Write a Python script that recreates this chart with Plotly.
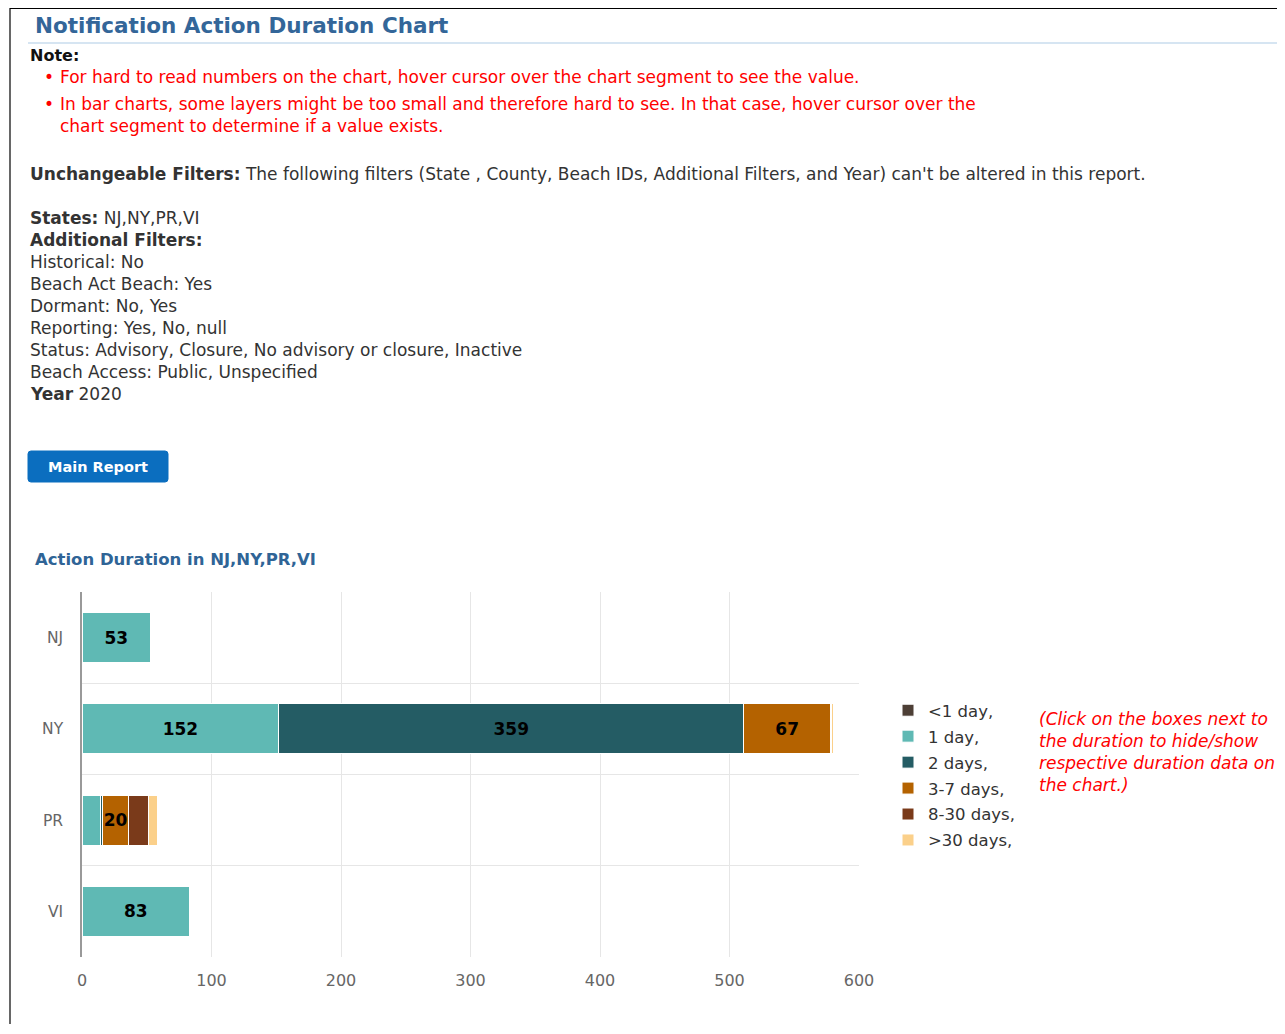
import plotly.graph_objects as go

# page is rendered with an 8px body margin: figure sized to fit the window exactly
PAGE_W, PAGE_H = 1285, 1034
OFF = 8
W, H = PAGE_W - 2 * OFF, PAGE_H - 2 * OFF - 2

states = ["NJ", "NY", "PR", "VI"]
durations = ["<1 day,", "1 day,", "2 days,", "3-7 days,", "8-30 days,", ">30 days,"]
less_1_day = [0, 0, 0, 0]
one_day = [53, 152, 14, 83]
two_days = [0, 359, 2, 1]
three_7_days = [0, 67, 20, 0]
eight_30_days = [0, 1, 15, 0]
over_30_days = [0, 1, 7, 0]
series = [less_1_day, one_day, two_days, three_7_days, eight_30_days, over_30_days]
colors = ["#4d3f36", "#5fb9b4", "#245c64", "#b46200", "#7a3a1a", "#fbd08a"]
x_ticks = [0, 100, 200, 300, 400, 500, 600]

FONT = "DejaVu Sans"


def px(x):
    return (x - OFF) / W


def py(y):
    return 1 - (y - OFF) / H


fig = go.Figure()
for name, vals, col in zip(durations, series, colors):
    fig.add_trace(go.Bar(
        y=states, x=vals, orientation="h", name=name,
        marker=dict(color=col, line=dict(color="white", width=1)),
        text=[str(v) if v >= 20 else "" for v in vals],
        textposition="inside", insidetextanchor="middle", textangle=0,
        constraintext="none",
        textfont=dict(family=FONT, size=17, color="black", weight="bold"),
        legendgroup=name,
    ))

annotations = []


def txt(x, y, s, size=17, color="#333333", bold=False, italic=False, anchor="left"):
    annotations.append(dict(
        x=px(x), y=py(y), xref="paper", yref="paper", text=s, showarrow=False,
        xanchor=anchor, yanchor="middle",
        font=dict(family=FONT, size=size, color=color, weight="bold" if bold else "normal",
                  style="italic" if italic else "normal"),
    ))


red = "#ff0000"
txt(33, 26, "Notification Action Duration Chart", size=21.5, color="#336699", bold=True)
txt(28, 55, "Note:", size=16, color="#111111", bold=True)
txt(42, 77, "•", size=17, color=red)
txt(58, 77, "For hard to read numbers on the chart, hover cursor over the chart segment to see the value.", size=17, color=red)
txt(42, 104, "•", size=17, color=red)
txt(58, 104, "In bar charts, some layers might be too small and therefore hard to see. In that case, hover cursor over the", size=17, color=red)
txt(58, 126, "chart segment to determine if a value exists.", size=17, color=red)
txt(28, 174, "<b>Unchangeable Filters:</b> The following filters (State , County, Beach IDs, Additional Filters, and Year) can't be altered in this report.", size=17)
lines = [
    (218, "<b>States:</b> NJ,NY,PR,VI"),
    (240, "<b>Additional Filters:</b>"),
    (262, "Historical: No"),
    (284, "Beach Act Beach: Yes"),
    (306, "Dormant: No, Yes"),
    (328, "Reporting: Yes, No, null"),
    (350, "Status: Advisory, Closure, No advisory or closure, Inactive"),
    (372, "Beach Access: Public, Unspecified"),
    (394, "<b>Year</b> 2020"),
]
for yy, s in lines:
    txt(28, yy, s, size=17)

txt(98, 467, "Main Report", size=14.5, color="white", bold=True, anchor="center")
txt(33, 559, "Action Duration in NJ,NY,PR,VI", size=16.5, color="#2f6496", bold=True)

note_lines = ["(Click on the boxes next to", "the duration to hide/show",
              "respective duration data on", "the chart.)"]
for i, s in enumerate(note_lines):
    txt(1037, 719 + 22 * i, s, size=17, color=red, italic=True)

r = 3
x0, x1, y0, y1 = px(28), px(168), py(451), py(482)
rx, ry = r / W, r / H
path = (f"M{x0+rx},{y0} L{x1-rx},{y0} Q{x1},{y0} {x1},{y0-ry} L{x1},{y1+ry} Q{x1},{y1} {x1-rx},{y1} "
        f"L{x0+rx},{y1} Q{x0},{y1} {x0},{y1+ry} L{x0},{y0-ry} Q{x0},{y0} {x0+rx},{y0} Z")

shapes = [
    dict(type="line", xref="paper", yref="paper", x0=px(10), x1=1, y0=py(8.5), y1=py(8.5),
         line=dict(color="black", width=1.2)),
    dict(type="line", xref="paper", yref="paper", x0=px(10), x1=px(10), y0=py(8), y1=0,
         line=dict(color="black", width=1.2)),
    dict(type="line", xref="paper", yref="paper", x0=px(28), x1=1, y0=py(43), y1=py(43),
         line=dict(color="#c9dcee", width=1.5)),
    dict(type="path", xref="paper", yref="paper", path=path, fillcolor="#0b6ebf",
         line=dict(color="#0b6ebf", width=1), layer="below"),
]

fig.update_layout(
    width=W, height=H, margin=dict(l=0, r=0, t=0, b=0),
    paper_bgcolor="white", plot_bgcolor="white",
    barmode="stack", bargap=0.45,
    annotations=annotations, shapes=shapes,
    font=dict(family=FONT, size=16, color="#666666"),
    xaxis=dict(domain=[px(82), px(859)], range=[0, 600], tickvals=x_ticks,
               showgrid=True, gridcolor="#e6e6e6", gridwidth=1, zeroline=False,
               showline=False, ticks="", tickfont=dict(size=16, color="#666666"),
               ticklabelstandoff=12, anchor="y", automargin=False),
    yaxis=dict(domain=[py(957), py(592)], categoryorder="array", categoryarray=states,
               autorange="reversed", tickson="boundaries", showgrid=True,
               gridcolor="#e6e6e6", gridwidth=1, showline=True, linecolor="#999999",
               linewidth=1.5, ticks="", ticklen=0, tickfont=dict(size=15.5, color="#666666"),
               ticklabelstandoff=14, automargin=False),
    legend=dict(x=px(888), y=py(693), xanchor="left", yanchor="top",
                traceorder="grouped", tracegroupgap=1.5,
                font=dict(family=FONT, size=16.5, color="#333333"),
                bgcolor="rgba(0,0,0,0)"),
    showlegend=True,
)

fig.write_html("out.html")
